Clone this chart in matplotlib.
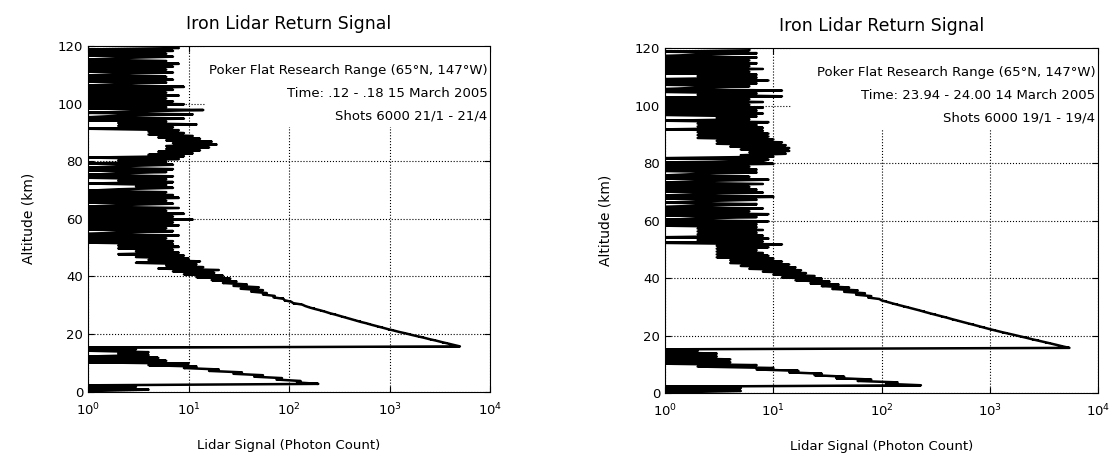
import matplotlib
matplotlib.use("Agg")
import matplotlib.pyplot as plt
from matplotlib.patches import Rectangle
import numpy as np

# altitude bins (km), 0.5 km resolution, bin centres
altitude = np.arange(0.25, 120, 0.5)

# photon counts per bin, 15 March 2005 (.12 - .18 UT)
counts_0315 = [
    1, 4, 1, 3, 1, 195, 120, 130, 75, 85,
    45, 55, 28, 34, 16, 20, 9, 12, 4, 10,
    1, 6, 1, 5, 1, 4, 2, 4, 1, 3,
    1, 5000, 4350, 3800, 3300, 2900, 2500, 2200, 1900, 1650,
    1450, 1250, 1100, 960, 850, 750, 660, 590, 515, 460,
    410, 365, 325, 290, 255, 230, 205, 180, 160, 145,
    135, 110, 105, 90, 88, 70, 72, 55, 60, 42,
    55, 33, 50, 28, 38, 22, 30, 17, 26, 12,
    22, 9, 18, 7, 20, 5, 14, 6, 12, 3,
    13, 4, 10, 3, 9, 2, 8, 3, 7, 2,
    8, 2, 7, 1, 7, 1, 6, 1, 8, 1,
    2, 7, 1, 6, 1, 8, 1, 7, 1, 11,
    1, 7, 1, 9, 1, 6, 1, 8, 1, 2,
    7, 1, 6, 1, 8, 1, 7, 1, 6, 1,
    2, 7, 3, 6, 1, 7, 2, 6, 1, 7,
    1, 2, 6, 1, 7, 1, 2, 7, 1, 6,
    2, 8, 1, 9, 4, 11, 5, 13, 6, 16,
    6, 19, 7, 17, 6, 13, 5, 11, 4, 9,
    4, 8, 1, 7, 2, 12, 2, 6, 1, 9,
    1, 2, 11, 1, 3, 14, 1, 6, 1, 9,
    1, 7, 1, 6, 1, 8, 1, 6, 1, 7,
    1, 9, 1, 2, 6, 1, 7, 1, 6, 1,
    2, 7, 1, 6, 1, 7, 1, 8, 1, 6,
    1, 2, 7, 1, 6, 1, 7, 1, 8, 7,
]

# photon counts per bin, 14 March 2005 (23.94 - 24.00 UT)
counts_0314 = [
    1, 5, 1, 5, 1, 230, 110, 140, 60, 80,
    38, 45, 24, 28, 14, 17, 7, 10, 2, 7,
    1, 4, 1, 4, 1, 3, 1, 3, 1, 2,
    1, 5400, 4700, 4150, 3650, 3200, 2800, 2450, 2170, 1900,
    1670, 1460, 1280, 1130, 1000, 890, 795, 710, 630, 560,
    500, 445, 400, 355, 315, 280, 250, 225, 200, 178,
    158, 140, 125, 112, 100, 95, 75, 80, 58, 70,
    45, 60, 35, 50, 28, 40, 22, 33, 16, 28,
    12, 24, 10, 20, 8, 18, 6, 16, 5, 14,
    4, 12, 4, 10, 3, 9, 3, 8, 3, 7,
    3, 9, 3, 12, 1, 8, 2, 9, 1, 8,
    2, 7, 2, 8, 2, 7, 1, 7, 1, 9,
    1, 2, 7, 1, 9, 1, 6, 1, 8, 1,
    2, 7, 1, 2, 7, 1, 10, 1, 2, 8,
    1, 7, 1, 6, 1, 8, 1, 2, 9, 1,
    6, 1, 2, 7, 1, 7, 1, 6, 1, 10,
    1, 8, 9, 1, 10, 5, 13, 6, 14, 5,
    14, 4, 13, 3, 12, 3, 10, 2, 9, 2,
    9, 2, 8, 1, 8, 2, 7, 2, 9, 1,
    6, 3, 7, 1, 8, 1, 7, 1, 8, 1,
    6, 1, 8, 1, 6, 1, 12, 2, 7, 1,
    12, 1, 2, 6, 1, 7, 1, 9, 1, 7,
    2, 7, 1, 6, 1, 8, 1, 6, 1, 7,
    1, 6, 1, 7, 1, 2, 7, 1, 6, 6,
]

panels = [
    (counts_0315, ["Poker Flat Research Range (65°N, 147°W)",
                   "Time: .12 - .18 15 March 2005",
                   "Shots 6000 21/1 - 21/4"]),
    (counts_0314, ["Poker Flat Research Range (65°N, 147°W)",
                   "Time: 23.94 - 24.00 14 March 2005",
                   "Shots 6000 19/1 - 19/4"]),
]

plt.rcParams["font.family"] = ["DejaVu Sans"]
plt.rcParams["path.simplify"] = False

fig = plt.figure(figsize=(11.14, 4.54), dpi=100)
positions = [[0.079, 0.137, 0.361, 0.762], [0.597, 0.134, 0.389, 0.760]]

for pos, (counts, notes) in zip(positions, panels):
    ax = fig.add_axes(pos)
    c = np.asarray(counts, dtype=float)
    # the dense raw trace zigzags between neighbouring bins, so the ink
    # covers the span between each pair of consecutive counts
    lo = np.minimum(c[:-1], c[1:])
    hi = np.maximum(c[:-1], c[1:])
    ax.fill_betweenx(altitude[:-1], lo, hi, step="post", color="black", lw=0, zorder=2)
    ax.plot(c, altitude, color="black", lw=1.8, zorder=2)
    ax.set_xscale("log")
    ax.set_xlim(1, 1e4)
    ax.set_ylim(0, 120)
    ax.set_yticks(np.arange(0, 121, 20))
    ax.grid(True, which="major", color="black", linestyle=":", lw=0.8)
    ax.minorticks_off()
    ax.tick_params(direction="in", top=True, right=True, labelsize=9.5, length=4)
    ax.tick_params(axis="x", pad=7)
    for sp in ax.spines.values():
        sp.set_linewidth(0.8)
    # white annotation box hides the grid behind the text block
    ax.add_patch(Rectangle((0.29, 0.765), 0.71, 0.235, transform=ax.transAxes,
                           facecolor="white", edgecolor="none", zorder=1.8))
    ax.set_title("Iron Lidar Return Signal", fontsize=12.5, pad=12)
    ax.set_xlabel("Lidar Signal (Photon Count)", fontsize=9.5, labelpad=15)
    ax.set_ylabel("Altitude (km)", fontsize=10, labelpad=16)
    for i, note in enumerate(notes):
        ax.text(0.993, 0.928 - 0.065 * i, note, transform=ax.transAxes,
                ha="right", va="center", fontsize=9.5, zorder=3)

fig.savefig("out.png", dpi=100)
